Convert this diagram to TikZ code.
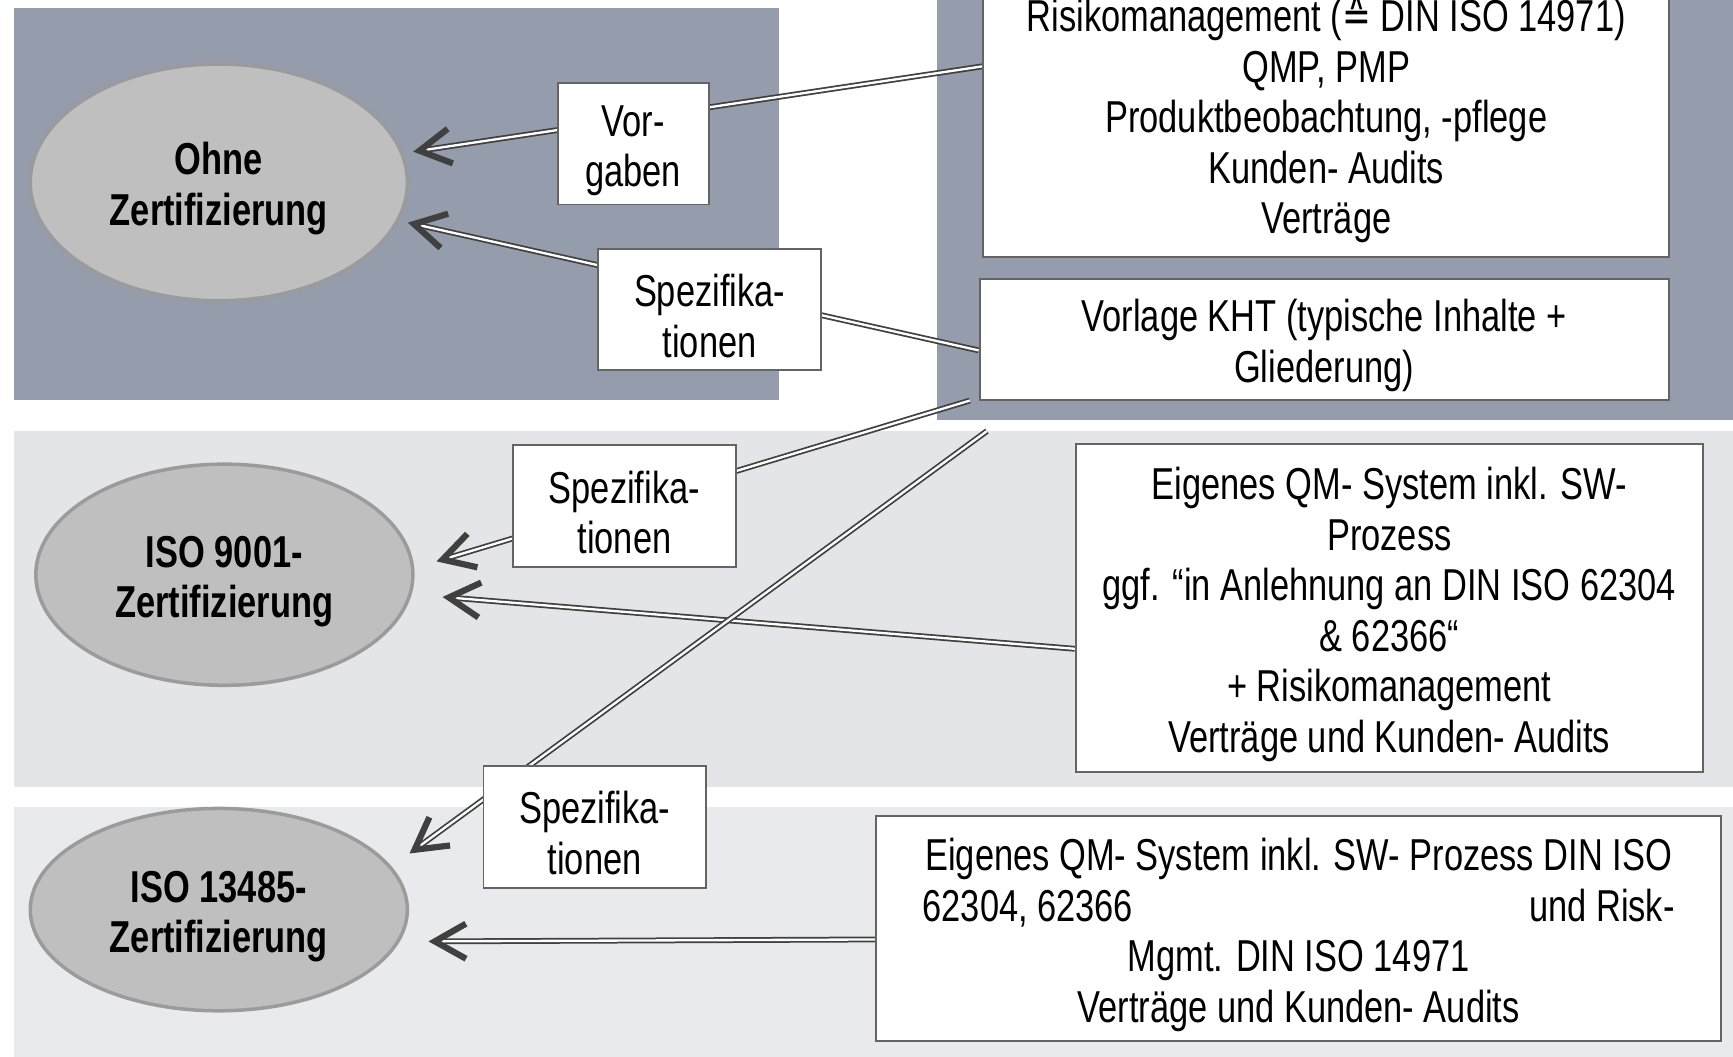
\documentclass[tikz,border=0pt]{standalone}
\usepackage{fontspec}
\setmainfont{Liberation Sans}[FakeStretch=0.77]
\newfontfamily\symbfont{DejaVu Sans}[FakeStretch=0.77]
\usetikzlibrary{arrows.meta,positioning,calc,shapes.geometric}

\definecolor{panelgray}{RGB}{149,156,171}
\definecolor{bandgray}{RGB}{228,229,233}
\definecolor{bandlight}{RGB}{233,234,238}
\definecolor{ellfill}{RGB}{191,191,191}
\definecolor{ellline}{RGB}{155,155,158}
\definecolor{arrowgray}{RGB}{64,64,64}
\definecolor{boxline}{RGB}{100,100,100}

\pgfdeclarelayer{back}
\pgfdeclarelayer{links}
\pgfsetlayers{back,links,main}

\newcommand{\fs}{\rule{0pt}{11.6pt}}

\tikzset{
  cert/.style={ellipse, draw=ellline, line width=0.9pt, fill=ellfill, inner sep=0pt,
    font=\bfseries\fontsize{11.5}{13}\selectfont, align=center, minimum width=3.41cm},
  infobox/.style={rectangle, draw=boxline, line width=0.5pt, fill=white, align=center,
    font=\fontsize{11.5}{13}\selectfont, inner sep=2pt},
  tagbox/.style={infobox, minimum width=2.01cm, minimum height=1.1cm},
  flow/.style={draw=arrowgray, line width=0.45pt, double=white, double distance=0.6pt,
    -{Straight Barb[length=8pt,width=9pt,line width=1.6pt]}}
}

\begin{document}
\begin{tikzpicture}[x=0.01cm, y=-0.01cm]
  \useasboundingbox (0,0) rectangle (1568,956);
  \clip (0,0) rectangle (1568,956);

  \begin{pgfonlayer}{back}
    \fill[white] (0,0) rectangle (1568,956);
    \fill[panelgray] (13,7) rectangle (705,362);
    \fill[panelgray] (848,-5) rectangle (1570,380);
    \fill[bandgray] (13,390) rectangle (1570,712);
    \fill[bandlight] (13,730) rectangle (1570,956);
  \end{pgfonlayer}

  \node (ohne) [cert, minimum height=2.14cm] at (198,165) {\fs Ohne\\Zertifizierung};
  \node (iso9001) [cert, minimum height=2.0cm] at (203,520) {\fs ISO 9001-\\Zertifizierung};
  \node (iso13485) [cert, minimum height=1.83cm] at (198,823) {\fs ISO 13485-\\Zertifizierung};

  \node (risk) [infobox, anchor=south, minimum width=6.2cm, inner ysep=3.5pt] at (1200,233)
    {Risikomanagement ({\symbfont ≙} DIN ISO 14971)\\QMP, PMP\\Produktbeobachtung, -pflege\\Kunden- Audits\\Verträge};
  \node (kht) [infobox, minimum width=6.23cm, minimum height=1.09cm] at (1198,307)
    {\fs Vorlage KHT (typische Inhalte +\\Gliederung)};
  \node (qm9001) [infobox, minimum width=5.67cm, minimum height=2.96cm] at (1257,550)
    {\fs Eigenes QM- System inkl. SW-\\Prozess\\ggf. “in Anlehnung an DIN ISO 62304\\\& 62366“\\+ Risikomanagement\\Verträge und Kunden- Audits};
  \node (qm13485) [infobox, minimum width=7.64cm, minimum height=2.04cm] at (1175,840)
    {\fs Eigenes QM- System inkl. SW- Prozess DIN ISO\\\makebox[6.8cm][s]{62304, 62366\hfill und Risk-}\\Mgmt. DIN ISO 14971\\Verträge und Kunden- Audits};

  \node (vorg) [tagbox, minimum width=1.37cm] at (573,130) {\fs Vor-\\gaben};
  \node (spec1) [tagbox] at (642,280) {\fs Spezifika-\\tionen};
  \node (spec2) [tagbox] at (565,458) {\fs Spezifika-\\tionen};
  \node (spec3) [tagbox] at (538,748) {\fs Spezifika-\\tionen};

  \coordinate (src1) at (risk.south west |- 0,60);
  \coordinate (src2) at (kht.south west |- 0,317);
  \coordinate (src3) at ($(kht.south west)+(-8,0)$);
  \coordinate (src4) at (893,390);
  \coordinate (src5) at (qm9001.south west |- 0,587);
  \coordinate (src6) at (qm13485.south west |- 0,850);

  \begin{pgfonlayer}{links}
    \draw[flow, shorten >=0.09cm] (src1) -- (ohne.9);
    \draw[flow, shorten >=0.08cm] (src2) -- (ohne.-12);
    \draw[flow, shorten >=0.21cm] (src3) -- (iso9001.2);
    \draw[flow, shorten >=0.28cm] (src5) -- (iso9001.-6);
    \draw[flow, shorten >=0.20cm] (src4) -- (iso13485.14);
    \draw[flow, shorten >=0.26cm] (src6) -- (iso13485.-10);
  \end{pgfonlayer}
\end{tikzpicture}
\end{document}
